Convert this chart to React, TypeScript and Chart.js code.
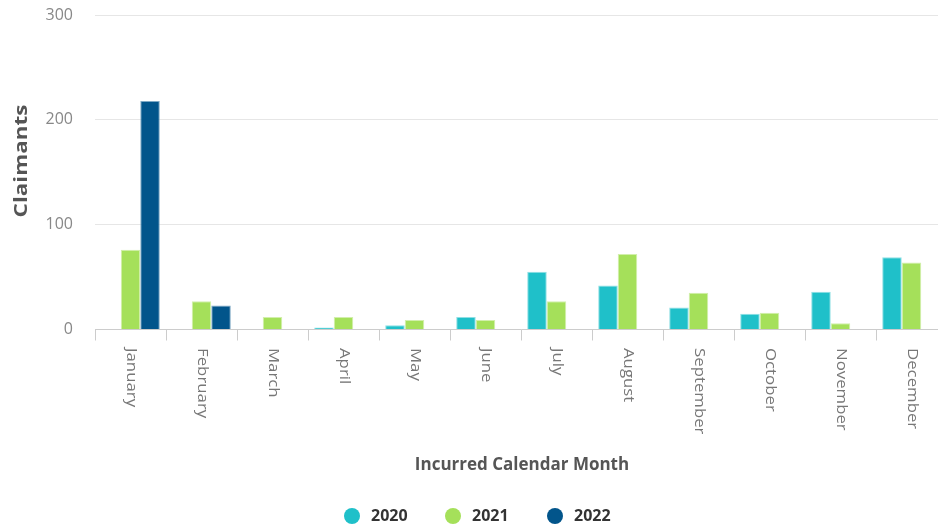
import React, { useEffect, useRef } from "react";
import { Chart, registerables } from "chart.js";

Chart.register(...registerables);

const months = ["January", "February", "March", "April", "May", "June", "July", "August", "September", "October", "November", "December"];
const seriesNames = ["2020", "2021", "2022"];
const values2020 = [null, null, null, 2, 4, 12, 55, 42, 21, 15, 36, 69];
const values2021 = [76, 27, 12, 12, 9, 9, 27, 72, 35, 16, 6, 64];
const values2022 = [218, 23, null, null, null, null, null, null, null, null, null, null];
const yTicks = [0, 100, 200, 300];
const colors = ["#1fc0c9", "#a5e05a", "#02558b"];
const borderColors = ["#8fdfe4", "#d2efac", "#7fa9c5"];

const FONT = "'Open Sans', sans-serif";

const textPlugin = {
  id: "customText",
  afterDraw(chart: any) {
    const ctx = chart.ctx;
    const x = chart.scales.x;
    ctx.save();
    // x tick labels, rotated +90deg
    ctx.fillStyle = "#777";
    ctx.font = `14px ${FONT}`;
    ctx.textAlign = "left";
    ctx.textBaseline = "middle";
    months.forEach((m, i) => {
      const px = x.getPixelForValue(i);
      ctx.save();
      ctx.translate(px, 348);
      ctx.rotate(Math.PI / 2);
      ctx.scale(1.2, 1);
      ctx.fillText(m, 0, 0);
      ctx.restore();
    });
    // x axis title
    ctx.fillStyle = "#555";
    ctx.font = `bold 17px ${FONT}`;
    ctx.textAlign = "center";
    ctx.fillText("Incurred Calendar Month", 522, 465);
    // y axis title
    ctx.save();
    ctx.translate(22, 161);
    ctx.rotate(-Math.PI / 2);
    ctx.scale(1.32, 1);
    ctx.font = `bold 17px ${FONT}`;
    ctx.fillText("Claimants", 0, 0);
    ctx.restore();
    // legend
    const lx = [352, 453, 555];
    seriesNames.forEach((n, i) => {
      ctx.fillStyle = colors[i];
      ctx.beginPath();
      ctx.arc(lx[i], 516, 8, 0, Math.PI * 2);
      ctx.fill();
      ctx.fillStyle = "#333";
      ctx.font = `bold 16px ${FONT}`;
      ctx.textAlign = "left";
      ctx.fillText(n, lx[i] + 19, 516);
    });
    ctx.restore();
  },
};

export default function App() {
  const ref = useRef<HTMLCanvasElement | null>(null);
  useEffect(() => {
    if (!ref.current) return;
    const data = [values2020, values2021, values2022];
    const chart = new Chart(ref.current, {
      type: "bar",
      data: {
        labels: months,
        datasets: seriesNames.map((n, i) => ({
          label: n,
          data: data[i] as any,
          backgroundColor: colors[i],
          borderColor: borderColors[i],
          borderWidth: 1,
          categoryPercentage: 0.825,
          barPercentage: 1,
        })),
      },
      options: {
        animation: false,
        responsive: false,
        layout: { padding: { top: 15, left: 0, right: 0, bottom: 0 } },
        plugins: { legend: { display: false }, tooltip: { enabled: false } },
        scales: {
          x: {
            grid: { drawOnChartArea: false, drawTicks: true, tickLength: 11, color: "#cccccc", offset: true },
            border: { display: true, color: "#cccccc" },
            ticks: { display: false },
            afterFit: (s: any) => { s.height = 198.5; s.paddingLeft = 0; s.paddingRight = 0; },
          },
          y: {
            min: 0,
            max: 300,
            afterBuildTicks: (s: any) => { s.ticks = yTicks.map((v) => ({ value: v })); },
            grid: { color: "#e6e6e6", drawTicks: false },
            border: { display: false },
            ticks: { color: "#888", font: { family: FONT, size: 16 }, padding: 22 },
            afterFit: (s: any) => { s.width = 95; s.paddingTop = 0; s.paddingBottom = 0; },
          },
        },
      },
      plugins: [textPlugin],
    });
    return () => chart.destroy();
  }, []);
  return (
    <div style={{ position: "fixed", left: 0, top: 0, width: 938, height: 528, overflow: "hidden", background: "#fff" }}>
      <canvas ref={ref} width={947} height={528} />
    </div>
  );
}
